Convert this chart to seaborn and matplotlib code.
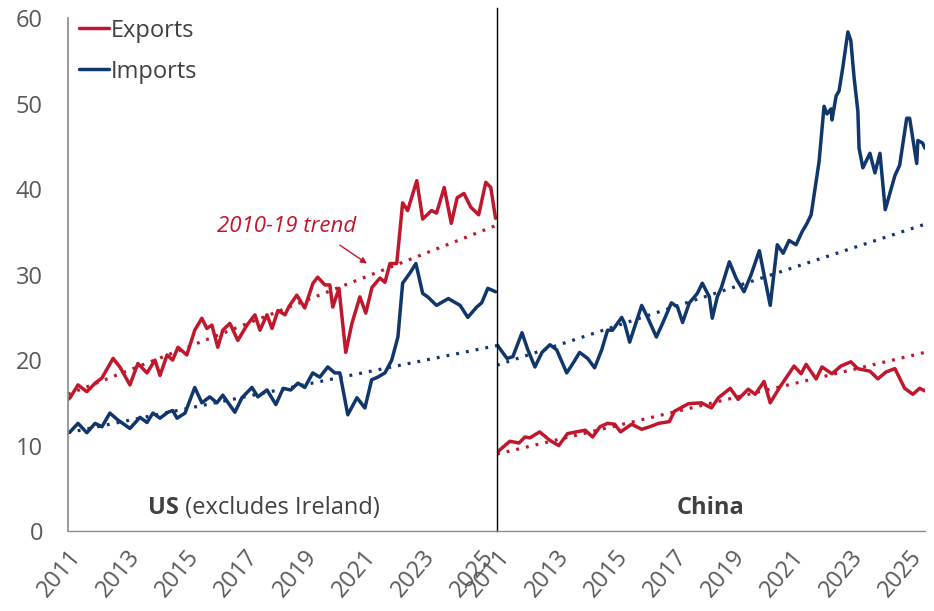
"""Exports and imports vs 2010-19 trend: US and China."""

import matplotlib

matplotlib.use("Agg")
import matplotlib.pyplot as plt
import matplotlib.transforms as mtransforms
import seaborn as sns

# ---- data ----
us_exp_years = [2011.0, 2011.07, 2011.34, 2011.64, 2011.92, 2012.15, 2012.53, 2012.76, 2013.1, 2013.37,
                2013.68, 2013.95, 2014.12, 2014.36, 2014.55, 2014.73, 2015.03, 2015.3, 2015.54, 2015.71,
                2015.88, 2016.08, 2016.25, 2016.49, 2016.76, 2017.07, 2017.34, 2017.51, 2017.75, 2017.92,
                2018.12, 2018.36, 2018.5, 2018.76, 2019.03, 2019.31, 2019.47, 2019.71, 2019.88, 2019.98,
                2020.19, 2020.42, 2020.63, 2020.9, 2021.1, 2021.31, 2021.58, 2021.75, 2021.92, 2022.15,
                2022.35, 2022.52, 2022.83, 2023.03, 2023.33, 2023.5, 2023.76, 2024.0, 2024.2, 2024.43,
                2024.66, 2024.93, 2025.17, 2025.34, 2025.5]
us_exp_vals = [15.4, 15.6, 17.1, 16.3, 17.3, 17.9, 20.2, 19.2, 17.1, 19.6,
               18.5, 20.0, 18.2, 20.6, 20.0, 21.5, 20.6, 23.5, 24.9, 23.7,
               24.1, 21.5, 23.5, 24.3, 22.3, 24.1, 25.3, 23.5, 25.3, 23.7,
               25.8, 25.3, 26.3, 27.6, 26.1, 29.0, 29.7, 28.8, 28.8, 26.2,
               28.4, 20.9, 24.3, 27.4, 25.5, 28.5, 29.6, 29.1, 31.3, 31.3,
               38.4, 37.5, 41.0, 36.5, 37.5, 37.2, 40.2, 36.0, 39.0, 39.5,
               37.9, 37.0, 40.8, 40.2, 36.6]

us_imp_years = [2011.0, 2011.07, 2011.34, 2011.64, 2011.92, 2012.15, 2012.42, 2012.69, 2013.1, 2013.44,
                2013.68, 2013.88, 2014.12, 2014.39, 2014.55, 2014.7, 2014.97, 2015.3, 2015.54, 2015.81,
                2016.05, 2016.25, 2016.66, 2016.9, 2017.24, 2017.44, 2017.75, 2018.05, 2018.3, 2018.55,
                2018.8, 2019.03, 2019.3, 2019.54, 2019.81, 2020.05, 2020.22, 2020.49, 2020.8, 2021.07,
                2021.3, 2021.5, 2021.75, 2021.98, 2022.19, 2022.35, 2022.6, 2022.8, 2023.03, 2023.2,
                2023.5, 2023.9, 2024.3, 2024.56, 2024.86, 2025.03, 2025.24, 2025.5]
us_imp_vals = [11.5, 11.6, 12.6, 11.5, 12.6, 12.2, 13.8, 13.0, 12.0, 13.3,
               12.7, 13.8, 13.2, 13.9, 14.1, 13.2, 13.8, 16.8, 15.0, 15.7,
               15.0, 15.9, 13.9, 15.6, 16.8, 15.7, 16.5, 14.8, 16.7, 16.5,
               17.3, 16.8, 18.5, 18.0, 19.2, 18.5, 18.5, 13.6, 15.6, 14.4,
               17.7, 18.0, 18.5, 20.0, 22.7, 29.0, 30.2, 31.3, 27.8, 27.4,
               26.4, 27.2, 26.4, 25.0, 26.2, 26.7, 28.4, 28.0]

cn_exp_years = [2011.0, 2011.2, 2011.44, 2011.75, 2011.95, 2012.12, 2012.45, 2012.8, 2013.1, 2013.4,
                2013.7, 2014.0, 2014.25, 2014.5, 2014.76, 2015.0, 2015.2, 2015.58, 2015.92, 2016.19,
                2016.5, 2016.86, 2017.03, 2017.51, 2017.95, 2018.29, 2018.53, 2018.93, 2019.2, 2019.54,
                2019.78, 2020.08, 2020.29, 2020.59, 2021.1, 2021.34, 2021.51, 2021.85, 2022.05, 2022.39,
                2022.69, 2023.03, 2023.27, 2023.68, 2023.95, 2024.22, 2024.53, 2024.86, 2025.14, 2025.37,
                2025.55]
cn_exp_vals = [9.2, 9.8, 10.5, 10.3, 11.0, 10.9, 11.6, 10.6, 10.0, 11.4,
               11.6, 11.8, 11.0, 12.2, 12.6, 12.5, 11.6, 12.5, 11.9, 12.2,
               12.6, 12.8, 14.0, 14.9, 15.0, 14.4, 15.6, 16.7, 15.4, 16.6,
               16.0, 17.5, 15.0, 16.7, 19.3, 18.4, 19.5, 17.8, 19.2, 18.4,
               19.3, 19.8, 19.0, 18.7, 17.8, 18.6, 19.0, 16.7, 16.0, 16.7,
               16.4]

cn_imp_years = [2011.0, 2011.34, 2011.54, 2011.85, 2012.05, 2012.29, 2012.53, 2012.8, 2013.03, 2013.37,
                2013.58, 2013.81, 2014.08, 2014.32, 2014.56, 2014.76, 2014.93, 2015.24, 2015.34, 2015.51,
                2015.92, 2016.12, 2016.42, 2016.63, 2016.93, 2017.14, 2017.31, 2017.54, 2017.81, 2017.98,
                2018.22, 2018.32, 2018.49, 2018.63, 2018.9, 2019.14, 2019.4, 2019.64, 2019.92, 2020.08,
                2020.29, 2020.53, 2020.73, 2020.93, 2021.17, 2021.37, 2021.54, 2021.68, 2021.78, 2021.95,
                2022.12, 2022.22, 2022.36, 2022.39, 2022.53, 2022.63, 2022.76, 2022.93, 2023.03, 2023.14,
                2023.27, 2023.31, 2023.44, 2023.68, 2023.85, 2024.02, 2024.2, 2024.53, 2024.69, 2024.93,
                2025.03, 2025.27, 2025.31, 2025.47, 2025.55]
cn_imp_vals = [21.8, 20.2, 20.4, 23.2, 21.2, 19.2, 20.9, 21.8, 21.2, 18.5,
               19.6, 20.9, 20.2, 19.1, 21.2, 23.5, 23.5, 25.0, 24.3, 22.1,
               26.4, 25.0, 22.7, 24.3, 26.7, 26.2, 24.4, 26.7, 27.8, 29.0,
               27.4, 24.9, 27.4, 28.5, 31.5, 29.5, 28.0, 30.0, 32.8, 30.0,
               26.4, 33.5, 32.5, 34.0, 33.5, 35.0, 36.0, 37.0, 39.3, 43.2,
               49.7, 48.8, 49.4, 48.1, 50.9, 51.5, 54.3, 58.4, 57.4, 53.1,
               49.1, 44.8, 42.5, 44.2, 41.9, 44.2, 37.6, 41.6, 42.8, 48.3,
               48.3, 43.0, 45.7, 45.4, 44.8]

# 2010-19 trend lines (start / end of the chart window)
trend_years = [2011.0, 2025.55]
us_exp_trend = [16.0, 35.8]
us_imp_trend = [11.5, 21.7]
cn_exp_trend = [9.0, 20.9]
cn_imp_trend = [19.4, 35.9]

tick_years = [2011, 2013, 2015, 2017, 2019, 2021, 2023, 2025]
y_ticks = [0, 10, 20, 30, 40, 50, 60]

RED = "#C0172C"
BLUE = "#11366B"
GREY = "#595959"
DOTS = (0, (0.9, 2.2))
FS = 17

sns.set_theme(style="white")
plt.rcParams["font.family"] = ["Open Sans", "DejaVu Sans"]

fig = plt.figure(figsize=(9.34, 6.11), dpi=100)
ax1 = fig.add_axes([0.0728, 0.1309, 0.4593, 0.856])
ax2 = fig.add_axes([0.5321, 0.1309, 0.4582, 0.856], sharey=ax1)

panels = [
    (ax1, us_exp_years, us_exp_vals, us_imp_years, us_imp_vals, us_exp_trend, us_imp_trend),
    (ax2, cn_exp_years, cn_exp_vals, cn_imp_years, cn_imp_vals, cn_exp_trend, cn_imp_trend),
]
for ax, ex_x, ex_y, im_x, im_y, ex_t, im_t in panels:
    sns.lineplot(x=trend_years, y=ex_t, ax=ax, color=RED, lw=2.3, linestyle=DOTS)
    sns.lineplot(x=trend_years, y=im_t, ax=ax, color=BLUE, lw=2.3, linestyle=DOTS)
    sns.lineplot(x=ex_x, y=ex_y, ax=ax, color=RED, lw=2.5, label="Exports")
    sns.lineplot(x=im_x, y=im_y, ax=ax, color=BLUE, lw=2.5, label="Imports")

    ax.set_xlim(2011.0, 2025.55)
    ax.set_ylim(0, 61.2)
    ax.set_xticks(tick_years)
    ax.set_xticklabels([str(y) for y in tick_years], rotation=50, ha="right",
                       rotation_mode="anchor", fontsize=FS, color=GREY)
    ax.tick_params(axis="x", length=0, pad=10)
    ax.set_xlabel("")
    ax.set_ylabel("")
    for side in ["top", "right"]:
        ax.spines[side].set_visible(False)
    ax.spines["bottom"].set_color("#8C8C8C")
    ax.spines["bottom"].set_linewidth(1.0)

# left panel axis
ax1.set_yticks(y_ticks)
ax1.set_yticklabels([str(v) for v in y_ticks], fontsize=FS, color=GREY)
ax1.tick_params(axis="y", length=6, width=1, color="#8C8C8C", direction="out", pad=12)
ax1.spines["left"].set_color("#8C8C8C")
ax1.spines["left"].set_bounds(0, 60)

# divider between panels
ax2.spines["left"].set_color("#000000")
ax2.spines["left"].set_linewidth(1.0)
ax2.tick_params(axis="y", left=False, labelleft=False)

ax2.get_legend().remove()
leg = ax1.legend(loc="upper left", bbox_to_anchor=(0.0, 1.0), frameon=False,
                 fontsize=FS, handlelength=1.3, handletextpad=0.08,
                 labelspacing=0.72, borderaxespad=0.35, borderpad=0.1)
for t in leg.get_texts():
    t.set_color("#404040")

# panel labels
tr1 = mtransforms.blended_transform_factory(ax1.transAxes, ax1.transData)
ax1.text(0.258, 2.7, "US", transform=tr1, ha="right", va="center",
         fontsize=FS, fontweight="bold", color="#404040")
ax1.text(0.258, 2.7, " (excludes Ireland)", transform=tr1, ha="left", va="center",
         fontsize=FS, color="#404040")
tr2 = mtransforms.blended_transform_factory(ax2.transAxes, ax2.transData)
ax2.text(0.5, 2.7, "China", transform=tr2, ha="center", va="center",
         fontsize=FS, fontweight="bold", color="#404040")

# trend annotation
ax1.text(2018.42, 35.6, "2010-19 trend", ha="center", va="center",
         fontsize=16, fontstyle="italic", color=RED)
ax1.annotate("", xy=(2021.14, 31.3), xytext=(2020.22, 33.45),
             arrowprops=dict(arrowstyle="-|>", color=RED, lw=1.0,
                             mutation_scale=9, shrinkA=0, shrinkB=0))

fig.savefig("out.png", dpi=100)
plt.close(fig)
